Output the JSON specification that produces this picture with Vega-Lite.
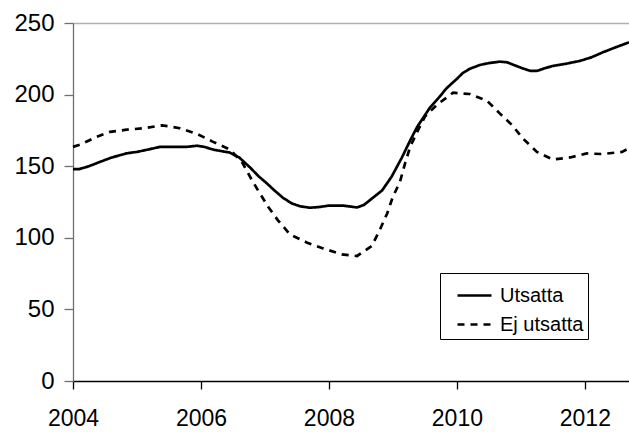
{
  "$schema": "https://vega.github.io/schema/vega-lite/v6.json",
  "width": 556,
  "height": 358,
  "autosize": {"type": "none"},
  "padding": {"left": 73, "top": 23, "right": 0, "bottom": 51},
  "background": "white",
  "config": {"view": {"stroke": null}, "font": "Liberation Sans"},
  "data": {"values": [
    {"t": 2004.0, "v": 148, "s": "Utsatta"},
    {"t": 2004.1, "v": 148, "s": "Utsatta"},
    {"t": 2004.25, "v": 150, "s": "Utsatta"},
    {"t": 2004.42, "v": 153, "s": "Utsatta"},
    {"t": 2004.6, "v": 156, "s": "Utsatta"},
    {"t": 2004.84, "v": 159, "s": "Utsatta"},
    {"t": 2005.0, "v": 160, "s": "Utsatta"},
    {"t": 2005.16, "v": 161.5, "s": "Utsatta"},
    {"t": 2005.36, "v": 163.5, "s": "Utsatta"},
    {"t": 2005.6, "v": 163.5, "s": "Utsatta"},
    {"t": 2005.78, "v": 163.5, "s": "Utsatta"},
    {"t": 2005.94, "v": 164.3, "s": "Utsatta"},
    {"t": 2006.05, "v": 163.5, "s": "Utsatta"},
    {"t": 2006.2, "v": 161.5, "s": "Utsatta"},
    {"t": 2006.45, "v": 159.5, "s": "Utsatta"},
    {"t": 2006.6, "v": 156, "s": "Utsatta"},
    {"t": 2006.77, "v": 149, "s": "Utsatta"},
    {"t": 2006.9, "v": 143, "s": "Utsatta"},
    {"t": 2007.03, "v": 138, "s": "Utsatta"},
    {"t": 2007.15, "v": 133, "s": "Utsatta"},
    {"t": 2007.28, "v": 128, "s": "Utsatta"},
    {"t": 2007.42, "v": 124, "s": "Utsatta"},
    {"t": 2007.55, "v": 122, "s": "Utsatta"},
    {"t": 2007.7, "v": 121, "s": "Utsatta"},
    {"t": 2007.85, "v": 121.5, "s": "Utsatta"},
    {"t": 2008.0, "v": 122.5, "s": "Utsatta"},
    {"t": 2008.22, "v": 122.5, "s": "Utsatta"},
    {"t": 2008.44, "v": 121.2, "s": "Utsatta"},
    {"t": 2008.55, "v": 123, "s": "Utsatta"},
    {"t": 2008.66, "v": 127, "s": "Utsatta"},
    {"t": 2008.83, "v": 133, "s": "Utsatta"},
    {"t": 2008.98, "v": 142.7, "s": "Utsatta"},
    {"t": 2009.14, "v": 156, "s": "Utsatta"},
    {"t": 2009.27, "v": 168, "s": "Utsatta"},
    {"t": 2009.38, "v": 177.5, "s": "Utsatta"},
    {"t": 2009.58, "v": 191, "s": "Utsatta"},
    {"t": 2009.72, "v": 198, "s": "Utsatta"},
    {"t": 2009.84, "v": 204.5, "s": "Utsatta"},
    {"t": 2010.0, "v": 211, "s": "Utsatta"},
    {"t": 2010.09, "v": 215, "s": "Utsatta"},
    {"t": 2010.2, "v": 218, "s": "Utsatta"},
    {"t": 2010.36, "v": 220.7, "s": "Utsatta"},
    {"t": 2010.5, "v": 222, "s": "Utsatta"},
    {"t": 2010.67, "v": 223, "s": "Utsatta"},
    {"t": 2010.78, "v": 222.6, "s": "Utsatta"},
    {"t": 2010.9, "v": 220.5, "s": "Utsatta"},
    {"t": 2011.03, "v": 218.3, "s": "Utsatta"},
    {"t": 2011.15, "v": 216.5, "s": "Utsatta"},
    {"t": 2011.25, "v": 216.5, "s": "Utsatta"},
    {"t": 2011.38, "v": 218.5, "s": "Utsatta"},
    {"t": 2011.5, "v": 220, "s": "Utsatta"},
    {"t": 2011.7, "v": 221.5, "s": "Utsatta"},
    {"t": 2011.92, "v": 223.5, "s": "Utsatta"},
    {"t": 2012.1, "v": 226, "s": "Utsatta"},
    {"t": 2012.28, "v": 229.5, "s": "Utsatta"},
    {"t": 2012.45, "v": 232.5, "s": "Utsatta"},
    {"t": 2012.69, "v": 236.5, "s": "Utsatta"},
    {"t": 2004.0, "v": 163.5, "s": "Ej utsatta"},
    {"t": 2004.11, "v": 165, "s": "Ej utsatta"},
    {"t": 2004.25, "v": 168, "s": "Ej utsatta"},
    {"t": 2004.37, "v": 170.5, "s": "Ej utsatta"},
    {"t": 2004.58, "v": 174, "s": "Ej utsatta"},
    {"t": 2004.84, "v": 175.5, "s": "Ej utsatta"},
    {"t": 2005.1, "v": 176.5, "s": "Ej utsatta"},
    {"t": 2005.39, "v": 178.5, "s": "Ej utsatta"},
    {"t": 2005.55, "v": 177.5, "s": "Ej utsatta"},
    {"t": 2005.67, "v": 176.5, "s": "Ej utsatta"},
    {"t": 2005.94, "v": 172.5, "s": "Ej utsatta"},
    {"t": 2006.19, "v": 167, "s": "Ej utsatta"},
    {"t": 2006.45, "v": 161.7, "s": "Ej utsatta"},
    {"t": 2006.64, "v": 153, "s": "Ej utsatta"},
    {"t": 2006.8, "v": 140, "s": "Ej utsatta"},
    {"t": 2006.92, "v": 131, "s": "Ej utsatta"},
    {"t": 2007.05, "v": 121.7, "s": "Ej utsatta"},
    {"t": 2007.2, "v": 112.4, "s": "Ej utsatta"},
    {"t": 2007.39, "v": 102.4, "s": "Ej utsatta"},
    {"t": 2007.66, "v": 96.6, "s": "Ej utsatta"},
    {"t": 2007.91, "v": 92.6, "s": "Ej utsatta"},
    {"t": 2008.2, "v": 88.4, "s": "Ej utsatta"},
    {"t": 2008.44, "v": 87.3, "s": "Ej utsatta"},
    {"t": 2008.67, "v": 94.3, "s": "Ej utsatta"},
    {"t": 2008.8, "v": 106, "s": "Ej utsatta"},
    {"t": 2008.91, "v": 117, "s": "Ej utsatta"},
    {"t": 2009.0, "v": 128.7, "s": "Ej utsatta"},
    {"t": 2009.11, "v": 139, "s": "Ej utsatta"},
    {"t": 2009.19, "v": 152, "s": "Ej utsatta"},
    {"t": 2009.27, "v": 163.6, "s": "Ej utsatta"},
    {"t": 2009.38, "v": 174, "s": "Ej utsatta"},
    {"t": 2009.5, "v": 184.6, "s": "Ej utsatta"},
    {"t": 2009.69, "v": 193, "s": "Ej utsatta"},
    {"t": 2009.94, "v": 201.3, "s": "Ej utsatta"},
    {"t": 2010.2, "v": 200.4, "s": "Ej utsatta"},
    {"t": 2010.47, "v": 195.7, "s": "Ej utsatta"},
    {"t": 2010.67, "v": 186.9, "s": "Ej utsatta"},
    {"t": 2010.86, "v": 178.8, "s": "Ej utsatta"},
    {"t": 2011.03, "v": 169.4, "s": "Ej utsatta"},
    {"t": 2011.25, "v": 160, "s": "Ej utsatta"},
    {"t": 2011.5, "v": 154.7, "s": "Ej utsatta"},
    {"t": 2011.77, "v": 156.1, "s": "Ej utsatta"},
    {"t": 2012.03, "v": 158.9, "s": "Ej utsatta"},
    {"t": 2012.28, "v": 158.5, "s": "Ej utsatta"},
    {"t": 2012.58, "v": 160, "s": "Ej utsatta"},
    {"t": 2012.69, "v": 162.5, "s": "Ej utsatta"}
  ]},
  "mark": {"type": "line", "color": "black", "strokeWidth": 2.7},
  "encoding": {
    "x": {
      "field": "t", "type": "quantitative",
      "scale": {"domain": [2004, 2012.69], "nice": false, "zero": false},
      "axis": {
        "title": null, "values": [2004, 2006, 2008, 2010, 2012], "format": "d",
        "grid": false, "domainColor": "black", "domainWidth": 1.3,
        "tickColor": "black", "tickSize": 8, "tickWidth": 1.3,
        "labelFontSize": 23, "labelColor": "black", "labelPadding": 18,
        "labelFlush": false, "labelOverlap": false
      }
    },
    "y": {
      "field": "v", "type": "quantitative",
      "scale": {"domain": [0, 250], "nice": false},
      "axis": {
        "title": null, "values": [0, 50, 100, 150, 200, 250],
        "grid": true, "gridColor": "#b0b0b0", "gridWidth": 1.3,
        "gridOpacity": {"condition": {"test": "datum.value == 250", "value": 1}, "value": 0},
        "domainColor": "#707070", "domainWidth": 1.3,
        "tickColor": "#707070", "tickSize": 9, "tickWidth": 1.3,
        "labelFontSize": 24, "labelColor": "black", "labelPadding": 10,
        "labelFlush": false, "labelOverlap": false
      }
    },
    "strokeDash": {
      "field": "s", "type": "nominal",
      "scale": {"domain": ["Utsatta", "Ej utsatta"], "range": [[1, 0], [7, 6]]},
      "legend": {
        "title": null, "orient": "none", "legendX": 367, "legendY": 250,
        "strokeColor": "black", "fillColor": "white", "padding": 4,
        "symbolType": "stroke", "symbolSize": 1156, "symbolStrokeWidth": 2.7,
        "symbolStrokeColor": "black", "symbolOffset": 12,
        "labelFontSize": 20, "labelColor": "black", "labelOffset": 7,
        "rowPadding": -2, "labelLimit": 300
      }
    }
  }
}
